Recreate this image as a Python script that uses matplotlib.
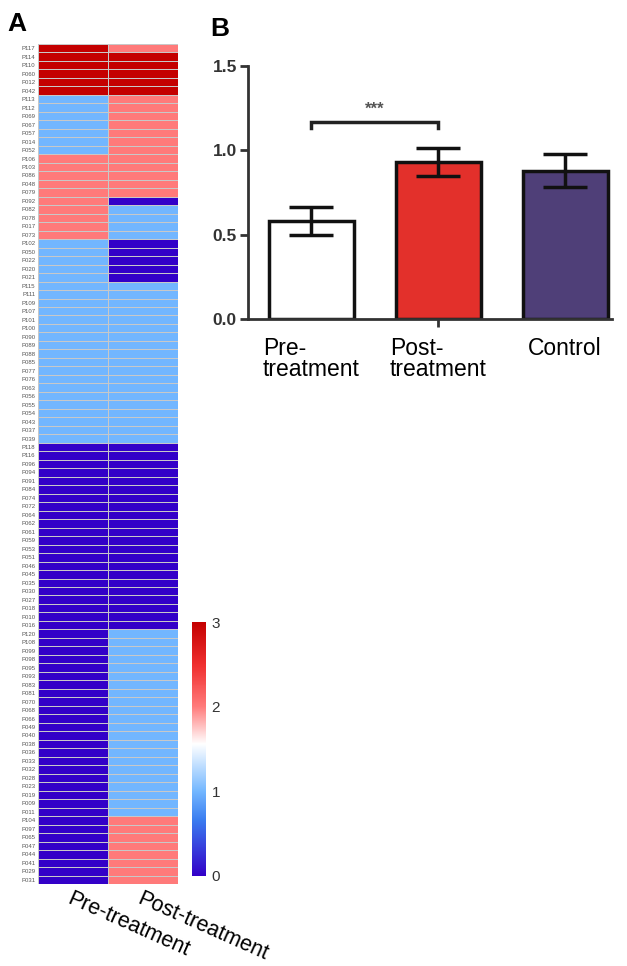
import matplotlib.pyplot as plt
import numpy as np
from matplotlib.colors import LinearSegmentedColormap

plt.rcParams['font.family'] = ['Liberation Sans', 'DejaVu Sans']

# ---- panel A data (top to bottom) ----
patients = [
    "P117", "P114", "P110", "P060", "P012", "P042",
    "P113", "P112", "P069", "P067", "P057", "P014", "P052",
    "P106", "P103", "P086", "P048", "P079",
    "P092",
    "P082", "P078", "P017", "P073",
    "P102", "P050", "P022", "P020", "P021",
    "P115", "P111", "P109", "P107", "P101", "P100", "P090", "P089", "P088", "P085",
    "P077", "P076", "P063", "P056", "P055", "P054", "P043", "P037", "P039",
    "P118", "P116", "P096", "P094", "P091", "P084", "P074", "P072", "P064", "P062", "P061",
    "P059", "P053", "P051", "P046", "P045", "P035", "P030", "P027", "P018", "P010", "P016",
    "P120", "P108", "P099", "P098", "P095", "P093", "P083", "P081", "P070", "P068", "P066",
    "P049", "P040", "P038", "P036", "P033", "P032", "P028", "P023", "P019", "P009", "P011",
    "P104", "P097", "P065", "P047", "P044", "P041", "P029", "P031",
]
pre_scores = [
    3, 3, 3, 3, 3, 3,
    1, 1, 1, 1, 1, 1, 1,
    2, 2, 2, 2, 2,
    2,
    2, 2, 2, 2,
    1, 1, 1, 1, 1,
    1, 1, 1, 1, 1, 1, 1, 1, 1, 1,
    1, 1, 1, 1, 1, 1, 1, 1, 1,
    0, 0, 0, 0, 0, 0, 0, 0, 0, 0, 0,
    0, 0, 0, 0, 0, 0, 0, 0, 0, 0, 0,
    0, 0, 0, 0, 0, 0, 0, 0, 0, 0, 0,
    0, 0, 0, 0, 0, 0, 0, 0, 0, 0, 0,
    0, 0, 0, 0, 0, 0, 0, 0,
]
post_scores = [
    2, 3, 3, 3, 3, 3,
    2, 2, 2, 2, 2, 2, 2,
    2, 2, 2, 2, 2,
    0,
    1, 1, 1, 1,
    0, 0, 0, 0, 0,
    1, 1, 1, 1, 1, 1, 1, 1, 1, 1,
    1, 1, 1, 1, 1, 1, 1, 1, 1,
    0, 0, 0, 0, 0, 0, 0, 0, 0, 0, 0,
    0, 0, 0, 0, 0, 0, 0, 0, 0, 0, 0,
    1, 1, 1, 1, 1, 1, 1, 1, 1, 1, 1,
    1, 1, 1, 1, 1, 1, 1, 1, 1, 1, 1,
    2, 2, 2, 2, 2, 2, 2, 2,
]
heat_cols = ["Pre-treatment", "Post-treatment"]

# ---- panel B data ----
groups = ["Pre-\ntreatment", "Post-\ntreatment", "Control"]
means = [0.58, 0.93, 0.88]
errs = [0.085, 0.085, 0.10]
bar_colors = ["white", "#e3302b", "#4f3f78"]

fig = plt.figure(figsize=(6.27, 9.66), dpi=100)

# ---- heatmap ----
cmap = LinearSegmentedColormap.from_list("rb", [
    (0.0, "#3300c8"), (0.22, "#3a7df0"), (0.333, "#72b6ff"),
    (0.52, "#ffffff"), (0.667, "#ff7a7a"), (0.83, "#f03030"), (1.0, "#c40000")])

ax_h = fig.add_axes([0.0606, 0.0849, 0.2233, 0.8696])
data = np.column_stack([pre_scores, post_scores])
mesh = ax_h.pcolormesh(data, cmap=cmap, vmin=0, vmax=3,
                       edgecolors="#c8c8c8", linewidth=0.6)
ax_h.set_ylim(len(patients), 0)
ax_h.set_xlim(0, 2)
ax_h.set_yticks(np.arange(len(patients)) + 0.5)
ax_h.set_yticklabels(patients, fontsize=4.3, color="#555555")
ax_h.set_xticks([0.5, 1.5])
ax_h.set_xticklabels(heat_cols, fontsize=15.5, rotation=-24, ha="left",
                     va="top", rotation_mode="anchor")
ax_h.tick_params(length=0, pad=2)
ax_h.tick_params(axis="x", pad=3)
for s in ax_h.spines.values():
    s.set_visible(False)

ax_cb = fig.add_axes([0.306, 0.0932, 0.0223, 0.2629])
cb = fig.colorbar(mesh, cax=ax_cb, ticks=[0, 1, 2, 3])
cb.outline.set_visible(False)
ax_cb.tick_params(length=0, labelsize=11, colors="#333333", pad=4)

fig.text(0.012, 0.975, "A", fontsize=19, fontweight="bold", va="center")

# ---- bar chart ----
ax_b = fig.add_axes([0.3955, 0.6698, 0.5805, 0.2619])
x = np.arange(len(groups))
ax_b.bar(x, means, width=0.67, color=bar_colors, edgecolor="#111111",
         linewidth=2.5, zorder=2)
ax_b.errorbar(x, means, yerr=errs, fmt="none", ecolor="#111111",
              elinewidth=2.5, capsize=16, capthick=2.5, zorder=3)
ax_b.set_ylim(0, 1.5)
ax_b.set_xlim(-0.5, 2.37)
ax_b.set_yticks([0.0, 0.5, 1.0, 1.5])
ax_b.set_yticklabels(["0.0", "0.5", "1.0", "1.5"], fontsize=12.5,
                     fontweight="bold", color="#333333")
ax_b.set_xticks(x)
ax_b.set_xticklabels(groups, fontsize=16.5, multialignment="left",
                     linespacing=0.9)
ticks = ax_b.xaxis.get_major_ticks()
ticks[0].tick1line.set_visible(False)
ticks[2].tick1line.set_visible(False)
ax_b.tick_params(axis="y", length=6, width=2, color="#333333", pad=2)
ax_b.tick_params(axis="x", length=6, width=2, color="#333333", pad=7)
ax_b.spines["top"].set_visible(False)
ax_b.spines["right"].set_visible(False)
ax_b.spines["left"].set_linewidth(2)
ax_b.spines["bottom"].set_linewidth(2)
ax_b.spines["left"].set_color("#333333")
ax_b.spines["bottom"].set_color("#333333")

# significance bracket
ax_b.plot([0, 0, 1, 1], [1.13, 1.17, 1.17, 1.13], color="#222222", lw=2.5,
          solid_joinstyle="miter")
ax_b.text(0.5, 1.2, "***", ha="center", va="bottom", fontsize=12,
          fontweight="bold", color="#555555")

fig.text(0.335, 0.970, "B", fontsize=19, fontweight="bold", va="center")

plt.savefig("out.png", dpi=100)
